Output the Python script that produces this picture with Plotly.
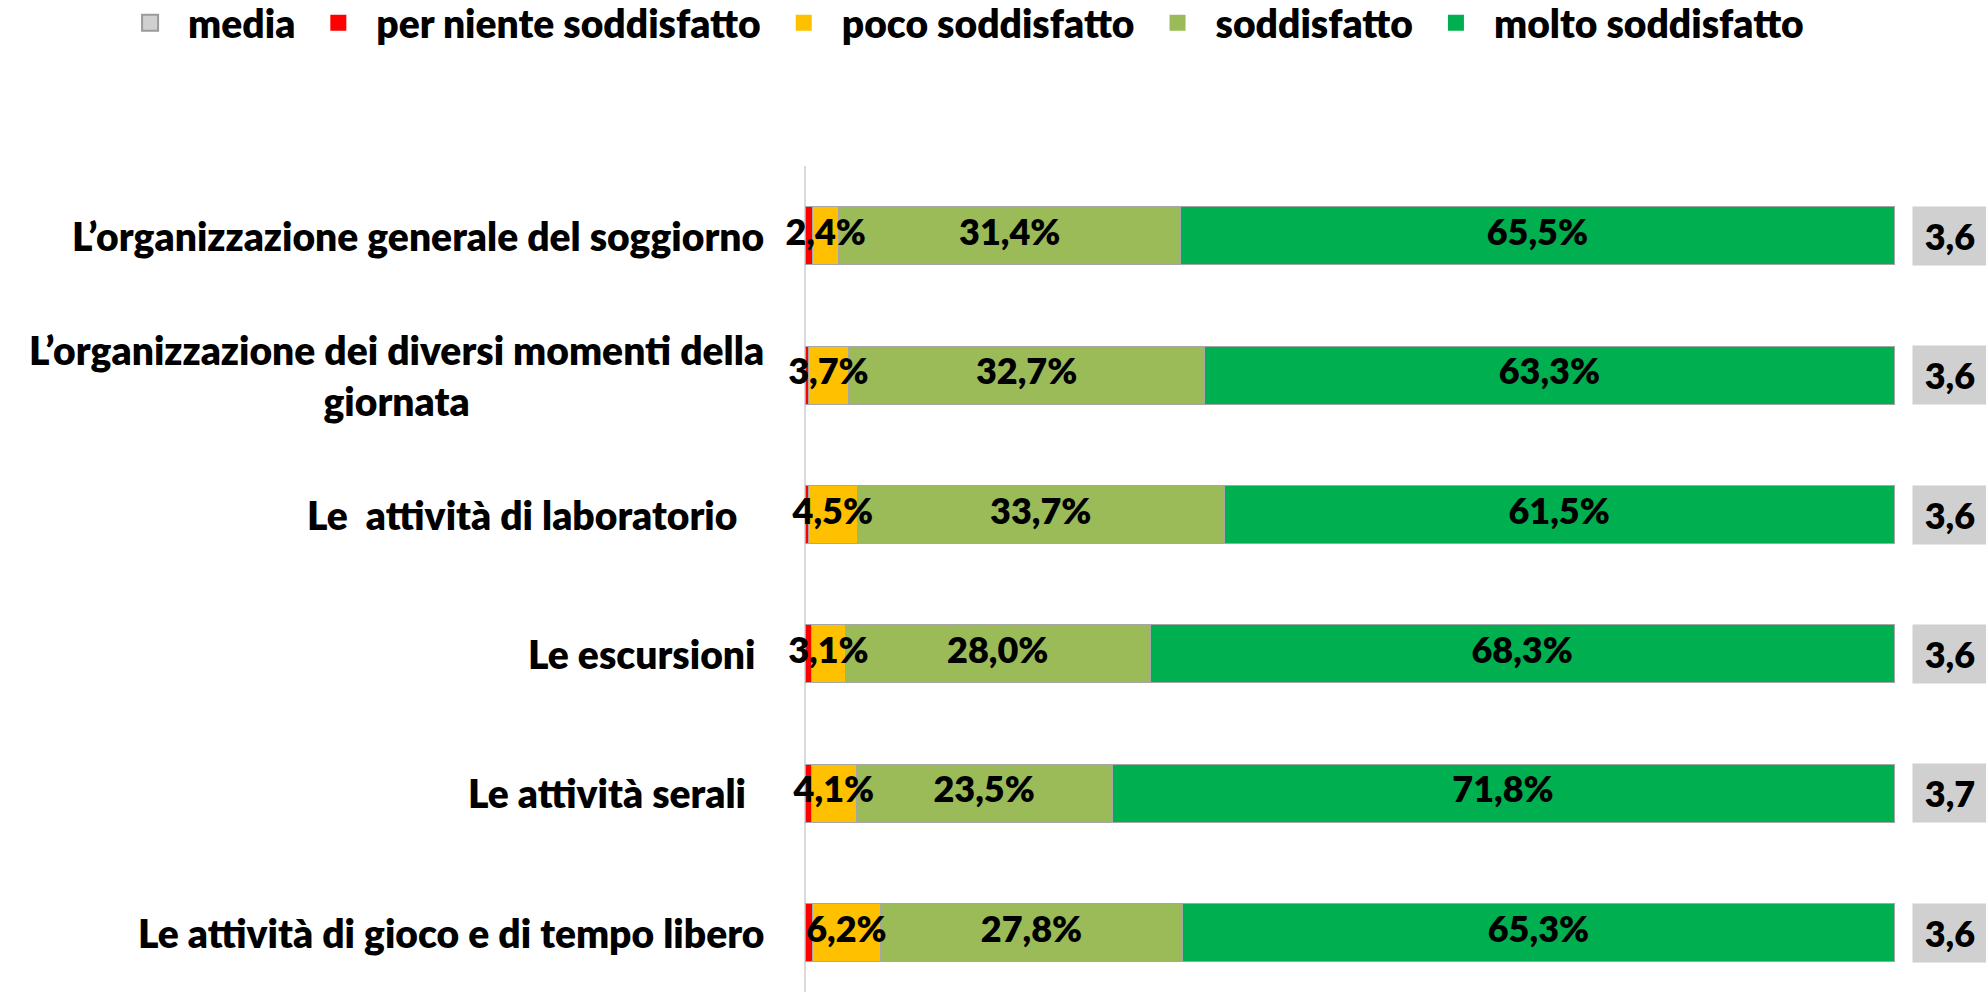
import plotly.graph_objects as go

# Survey items (top to bottom)
categories = [
    "L’organizzazione generale del soggiorno",
    "L’organizzazione dei diversi momenti della giornata",
    "Le attività di laboratorio",
    "Le escursioni",
    "Le attività serali",
    "Le attività di gioco e di tempo libero",
]
# Labels as printed beside the bars
category_labels = [
    "L’organizzazione generale del soggiorno",
    "L’organizzazione dei diversi momenti della<br>giornata",
    "Le  attività di laboratorio\u00a0\u00a0\u00a0",
    "Le escursioni\u00a0",
    "Le attività serali\u00a0\u00a0",
    "Le attività di gioco e di tempo libero",
]

# Percentages of answers per level of satisfaction
per_niente = [0.7, 0.3, 0.3, 0.6, 0.6, 0.7]
poco = [2.4, 3.7, 4.5, 3.1, 4.1, 6.2]
soddisfatto = [31.4, 32.7, 33.7, 28.0, 23.5, 27.8]
molto = [65.5, 63.3, 61.5, 68.3, 71.8, 65.3]

# Average score per item
media = [3.6, 3.6, 3.6, 3.6, 3.7, 3.6]

FONT = "Lato, DejaVu Sans Condensed, sans-serif"
FW = 800
FS_TEXT = 39
FS_NUM = 36
C_MEDIA = "#d0d0d0"
C_RED = "#ff0000"
C_YELLOW = "#ffc000"
C_OLIVE = "#9bbb59"
C_GREEN = "#00b050"


def pct(v):
    return f"{v:.1f}%".replace(".", ",")


fig = go.Figure()

series = [
    ("per niente soddisfatto", per_niente, C_RED, False),
    ("poco soddisfatto", poco, C_YELLOW, True),
    ("soddisfatto", soddisfatto, C_OLIVE, True),
    ("molto soddisfatto", molto, C_GREEN, True),
]

for name, vals, color, _ in series:
    fig.add_trace(go.Bar(
        name=name,
        y=categories,
        x=vals,
        orientation="h",
        marker=dict(color=color, line=dict(color="#a6a6a6", width=1)),
        showlegend=False,
        hoverinfo="skip",
    ))

# Value labels, centred on each stacked segment and drawn above all bars
lab_x, lab_y, lab_t = [], [], []
running = [0.0] * len(categories)
for name, vals, color, labelled in series:
    for i, v in enumerate(vals):
        if labelled:
            lab_x.append(running[i] + v / 2)
            lab_y.append(categories[i])
            lab_t.append(pct(v))
        running[i] += v
fig.add_trace(go.Scatter(
    x=lab_x, y=lab_y, text=lab_t, mode="text",
    textposition="middle center", cliponaxis=False,
    textfont=dict(family=FONT, size=FS_NUM, color="black", weight=FW),
    showlegend=False, hoverinfo="skip",
))

# Legend entries (square swatches)
legend_items = [
    ("media", C_MEDIA, "#9a9a9a", 2),
    ("per niente soddisfatto", C_RED, C_RED, 0),
    ("poco soddisfatto", C_YELLOW, C_YELLOW, 0),
    ("soddisfatto", C_OLIVE, C_OLIVE, 0),
    ("molto soddisfatto", C_GREEN, C_GREEN, 0),
]
for name, fill, edge, lw in legend_items:
    fig.add_trace(go.Scatter(
        x=[None], y=[None], mode="markers",
        name="\u00a0\u00a0" + name + "\u00a0\u00a0",
        marker=dict(symbol="square", size=16, color=fill,
                    line=dict(color=edge, width=lw)),
        showlegend=True, hoverinfo="skip",
    ))

W, H = 1986, 992
X0_PX, X100_PX = 805, 1894          # pixel span of the 0–100 % scale
px_per_unit = (X100_PX - X0_PX) / 100
x_range = [-X0_PX / px_per_unit, (W - X0_PX) / px_per_unit]

annotations = []
# Category labels on the left
for cat, lab in zip(categories, category_labels):
    annotations.append(dict(
        x=766 / W, xref="paper", y=cat, yref="y",
        xanchor="right", yanchor="middle", align="center",
        text=lab, showarrow=False,
        font=dict(family=FONT, size=FS_TEXT, color="black", weight=FW),
    ))
# Average score boxes on the right
for cat, m in zip(categories, media):
    annotations.append(dict(
        x=1950 / W, xref="paper", y=cat, yref="y",
        xanchor="center", yanchor="middle",
        text=f"{m:.1f}".replace(".", ","), showarrow=False,
        bgcolor=C_MEDIA, width=74, height=58, borderpad=0,
        font=dict(family=FONT, size=FS_NUM, color="black", weight=FW),
    ))

fig.update_layout(
    width=W, height=H,
    margin=dict(l=0, r=0, t=166, b=0),
    paper_bgcolor="white", plot_bgcolor="white",
    barmode="stack", bargap=0.584,
    font=dict(family=FONT, color="black"),
    xaxis=dict(range=x_range, showticklabels=False, ticks="",
               showgrid=False, showline=False,
               zeroline=True, zerolinecolor="#d9d9d9", zerolinewidth=2,
               fixedrange=True),
    yaxis=dict(
        type="category", categoryorder="array", categoryarray=categories,
        range=[5.425, -0.5], showticklabels=False, ticks="",
        showgrid=False, zeroline=False, showline=False,
    ),
    legend=dict(
        orientation="h", xref="paper", yref="container",
        x=0.0655, y=0.977, xanchor="left", yanchor="middle",
        traceorder="normal",
        font=dict(family=FONT, size=FS_TEXT, color="black", weight=FW),
        itemclick=False, itemdoubleclick=False,
    ),
    annotations=annotations,
    showlegend=True,
)

fig.write_html("out.html")
